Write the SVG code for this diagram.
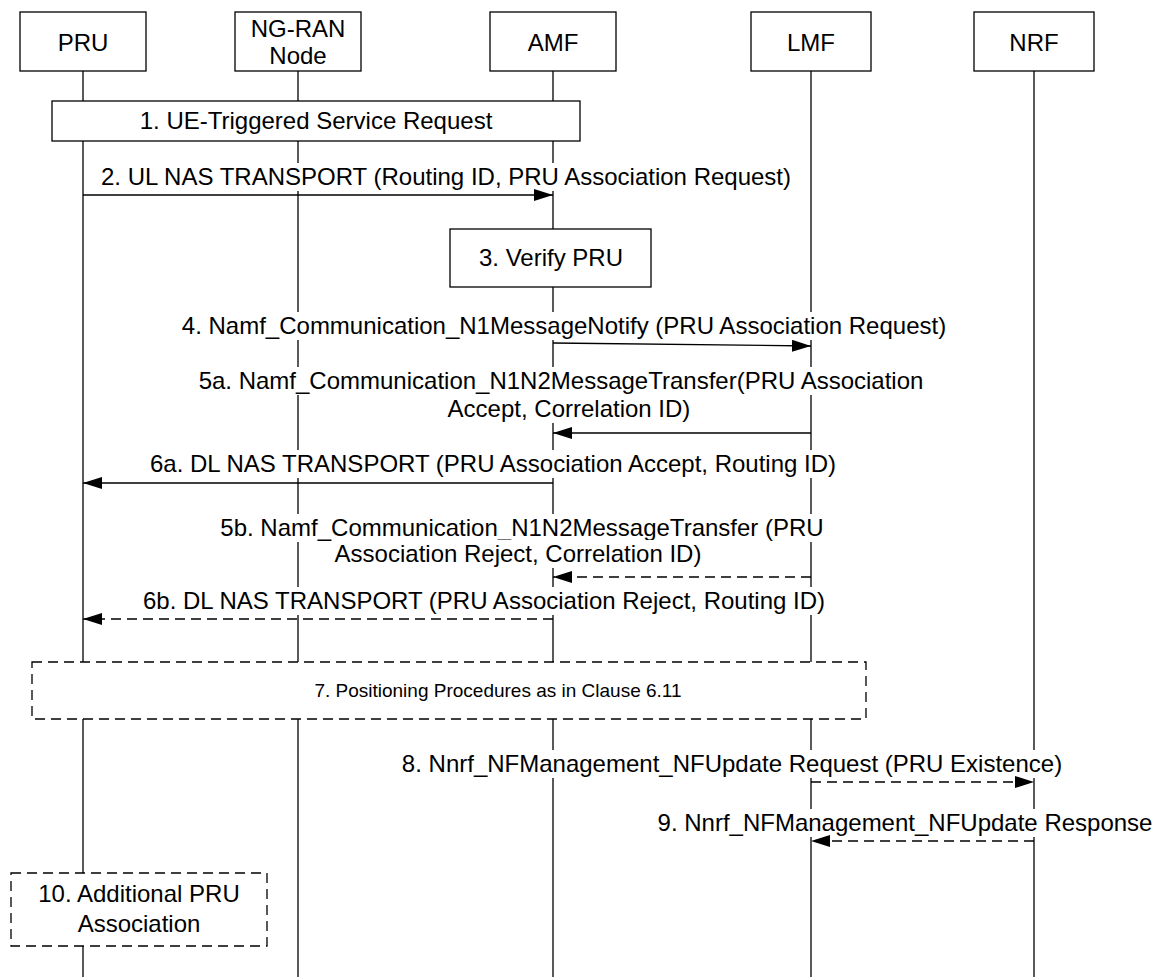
<svg xmlns="http://www.w3.org/2000/svg" width="1163" height="977" viewBox="0 0 1163 977">
<style>
.box{fill:#fff;stroke:#000;stroke-width:1.3}
.dbox{fill:#fff;stroke:#000;stroke-width:1.3;stroke-dasharray:10 6}
.life{stroke:#000;stroke-width:1.3;fill:none}
.msg{stroke:#000;stroke-width:1.3;fill:none}
.dmsg{stroke:#000;stroke-width:1.3;fill:none;stroke-dasharray:10 6}
.bg{fill:#fff}
text{font-family:"Liberation Sans",Arial,sans-serif;font-size:24px;fill:#000;text-anchor:middle}
.small{font-size:19px}
</style>
<defs>
<marker id="ah" viewBox="0 0 19 12" refX="19" refY="6" markerWidth="19" markerHeight="12" markerUnits="userSpaceOnUse" orient="auto">
<path d="M0,0 L19,6 L0,12 Z" fill="#000"/>
</marker>
</defs>
<g id="lifelines">
<line class="life" x1="83" y1="71" x2="83" y2="977"/>
<line class="life" x1="298" y1="71" x2="298" y2="977"/>
<line class="life" x1="553" y1="71" x2="553" y2="977"/>
<line class="life" x1="811" y1="71" x2="811" y2="977"/>
<line class="life" x1="1034" y1="71" x2="1034" y2="977"/>
</g>
<g id="node-PRU"><rect class="box" x="20" y="12" width="126" height="59"/><text x="83" y="51">PRU</text></g>
<g id="node-NGRAN"><rect class="box" x="235" y="12" width="126" height="59"/><text x="298" y="37">NG-RAN</text><text x="298" y="64">Node</text></g>
<g id="node-AMF"><rect class="box" x="490" y="12" width="126" height="59"/><text x="553" y="51">AMF</text></g>
<g id="node-LMF"><rect class="box" x="751" y="12" width="120" height="59"/><text x="811" y="51">LMF</text></g>
<g id="node-NRF"><rect class="box" x="974" y="12" width="120" height="59"/><text x="1034" y="51">NRF</text></g>
<g id="step1"><rect class="box" x="52" y="101" width="528" height="40"/><text x="316" y="129">1. UE-Triggered Service Request</text></g>
<g id="step3"><rect class="box" x="450" y="229" width="201" height="58"/><text x="551" y="266">3. Verify PRU</text></g>
<g id="step7"><rect class="dbox" x="32" y="662" width="834" height="57"/><text class="small" x="498" y="697">7. Positioning Procedures as in Clause 6.11</text></g>
<g id="step10"><rect class="dbox" x="11" y="873" width="256" height="73"/><text x="139" y="902">10. Additional PRU</text><text x="139" y="932">Association</text></g>
<g id="connectors">
<rect class="bg" x="97" y="163" width="698" height="28"/>
<text x="446" y="185">2. UL NAS TRANSPORT (Routing ID, PRU Association Request)</text>
<line class="msg" x1="83" y1="195" x2="553" y2="195" marker-end="url(#ah)"/>
<rect class="bg" x="179" y="312" width="770" height="28"/>
<text x="564" y="334">4. Namf_Communication_N1MessageNotify (PRU Association Request)</text>
<line class="msg" x1="553" y1="343" x2="811" y2="346" marker-end="url(#ah)"/>
<rect class="bg" x="196" y="367" width="731" height="28"/>
<text x="561" y="389">5a. Namf_Communication_N1N2MessageTransfer(PRU Association</text>
<rect class="bg" x="443" y="395" width="252" height="28"/>
<text x="569" y="417">Accept, Correlation ID)</text>
<line class="msg" x1="811" y1="433" x2="553" y2="433" marker-end="url(#ah)"/>
<rect class="bg" x="146" y="450" width="695" height="28"/>
<text x="493" y="472">6a. DL NAS TRANSPORT (PRU Association Accept, Routing ID)</text>
<line class="msg" x1="553" y1="483" x2="83" y2="483" marker-end="url(#ah)"/>
<rect class="bg" x="218" y="514" width="608" height="28"/>
<text x="522" y="536">5b. Namf_Communication_N1N2MessageTransfer (PRU</text>
<rect class="bg" x="332" y="540" width="371" height="28"/>
<text x="518" y="562">Association Reject, Correlation ID)</text>
<line class="dmsg" x1="811" y1="577" x2="553" y2="577" marker-end="url(#ah)"/>
<rect class="bg" x="140" y="587" width="689" height="28"/>
<text x="484" y="609">6b. DL NAS TRANSPORT (PRU Association Reject, Routing ID)</text>
<line class="dmsg" x1="553" y1="619" x2="83" y2="619" marker-end="url(#ah)"/>
<rect class="bg" x="400" y="750" width="664" height="28"/>
<text x="732" y="772">8. Nnrf_NFManagement_NFUpdate Request (PRU Existence)</text>
<line class="dmsg" x1="811" y1="782" x2="1034" y2="782" marker-end="url(#ah)"/>
<rect class="bg" x="655" y="809" width="499" height="28"/>
<text x="905" y="831">9. Nnrf_NFManagement_NFUpdate Response</text>
<line class="dmsg" x1="1034" y1="841" x2="811" y2="841" marker-end="url(#ah)"/>
</g>
</svg>
